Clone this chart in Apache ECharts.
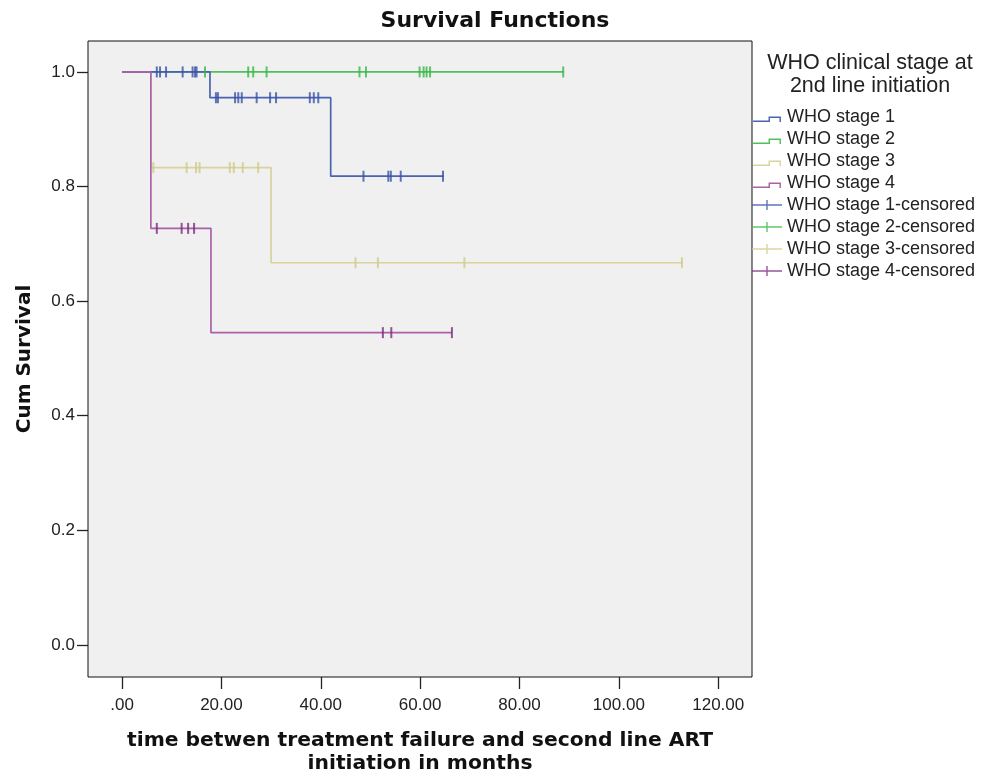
<!DOCTYPE html>
<html>

<head>
    <meta charset="utf-8">
    <title>Survival Functions</title>
    <script src="https://cdn.jsdelivr.net/npm/echarts@6/dist/echarts.min.js"></script>
</head>

<body style="margin:0;background:#fff;">
    <div id="main" style="width: 990px;height:776px;"></div>
    <script type="text/javascript">
    // step curves: time (months) and cumulative survival
    var s1Time = [0, 17.7, 42.0, 64.8];
    var s1Surv = [1, 0.955, 0.818, 0.818];
    var s2Time = [0, 88.9];
    var s2Surv = [1, 1];
    var s3Time = [0, 5.8, 30.0, 112.9];
    var s3Surv = [1, 0.833, 0.667, 0.667];
    var s4Time = [0, 5.8, 17.9, 66.4];
    var s4Surv = [1, 0.727, 0.545, 0.545];

    // censored observations
    var c1Time = [7.0, 7.65, 8.86, 12.2, 14.2, 14.7, 15.0, 18.9, 19.3, 22.75, 23.4, 24.1, 27.1, 29.8, 31.0, 37.8, 38.6, 39.5, 48.6, 53.6, 54.1, 56.1, 64.6];
    var c1Surv = [1, 1, 1, 1, 1, 1, 1, 0.955, 0.955, 0.955, 0.955, 0.955, 0.955, 0.955, 0.955, 0.955, 0.955, 0.955, 0.818, 0.818, 0.818, 0.818, 0.818];
    var c2Time = [16.7, 25.4, 26.4, 29.1, 47.8, 49.1, 59.9, 60.7, 61.3, 62.0, 88.8];
    var c2Surv = [1, 1, 1, 1, 1, 1, 1, 1, 1, 1, 1];
    var c3Time = [6.3, 13.0, 14.9, 15.6, 21.7, 22.5, 24.3, 27.4, 47.0, 51.5, 68.9, 112.7];
    var c3Surv = [0.833, 0.833, 0.833, 0.833, 0.833, 0.833, 0.833, 0.833, 0.667, 0.667, 0.667, 0.667];
    var c4Time = [7.0, 12.0, 13.3, 14.5, 52.5, 54.2, 66.4];
    var c4Surv = [0.727, 0.727, 0.727, 0.727, 0.545, 0.545, 0.545];

    var xTicks = [0, 20, 40, 60, 80, 100, 120];
    var yTicks = [0, 0.2, 0.4, 0.6, 0.8, 1.0];

    var stageNames = ['WHO stage 1', 'WHO stage 2', 'WHO stage 3', 'WHO stage 4'];
    var lineColors = ['#4a62b2', '#52c05a', '#d8d49c', '#a862a8'];
    var markColors = ['#3a52a8', '#3ab64a', '#cfca88', '#7e2a80'];

    function pairs(xs, ys) {
        return xs.map(function (x, i) { return [x, ys[i]]; });
    }

    var curves = [pairs(s1Time, s1Surv), pairs(s2Time, s2Surv), pairs(s3Time, s3Surv), pairs(s4Time, s4Surv)];
    var marks = [pairs(c1Time, c1Surv), pairs(c2Time, c2Surv), pairs(c3Time, c3Surv), pairs(c4Time, c4Surv)];

    // legend icons (30 x 10 box)
    var stepIcon = 'path://M0,0H0.01V0.01H0Z M0,8.3H15V4.3H27V9.7H25.6V5.7H16.4V9.7H0Z';
    var crossIcon = 'path://M0,4.3H14.3V0H15.7V4.3H30V5.7H15.7V10H14.3V5.7H0Z';

    var myChart = echarts.init(document.getElementById('main'));

    // draw order: green, yellow, blue, purple
    var order = [1, 2, 0, 3];
    var series = [];
    order.forEach(function (k) {
        series.push({
            name: stageNames[k],
            type: 'line',
            step: 'end',
            data: curves[k],
            color: lineColors[k],
            showSymbol: false,
            symbol: 'none',
            lineStyle: { width: 1.7, color: lineColors[k] },
            silent: true,
            z: 2
        });
    });
    order.forEach(function (k) {
        series.push({
            name: stageNames[k] + '-censored',
            type: 'scatter',
            data: marks[k],
            color: markColors[k],
            symbol: 'path://M0,0H1V10H0Z',
            symbolSize: [2, 11],
            itemStyle: { color: markColors[k] },
            silent: true,
            z: 3
        });
    });

    var legendData = [];
    stageNames.forEach(function (n) { legendData.push({ name: n, icon: stepIcon }); });
    stageNames.forEach(function (n) { legendData.push({ name: n + '-censored', icon: crossIcon }); });

    var option = {
        animation: false,
        backgroundColor: '#ffffff',
        title: [{
            text: 'Survival Functions',
            left: 'center',
            top: 5,
            textStyle: { fontFamily: 'DejaVu Sans', fontWeight: 'bold', fontSize: 22, color: '#111' }
        }, {
            text: 'WHO clinical stage at\n2nd line initiation',
            left: 865,
            top: 47,
            textAlign: 'center',
            textStyle: { fontFamily: 'Liberation Sans', fontWeight: 'normal', fontSize: 21.5, lineHeight: 23, color: '#222' }
        }],
        legend: {
            orient: 'vertical',
            left: 752,
            top: 108,
            padding: 0,
            itemWidth: 30,
            itemHeight: 10,
            itemGap: 4,
            selectedMode: false,
            itemStyle: { borderWidth: 0 },
            textStyle: { fontFamily: 'Liberation Sans', fontSize: 18, lineHeight: 18, color: '#222' },
            data: legendData
        },
        grid: {
            left: 88,
            right: 238,
            top: 41,
            bottom: 99,
            outerBoundsMode: 'none',
            show: true,
            backgroundColor: '#f0f0f0',
            borderColor: '#111',
            borderWidth: 1
        },
        xAxis: {
            type: 'value',
            min: -6.85,
            max: 126.8,
            name: 'time betwen treatment failure and second line ART\ninitiation in months',
            nameLocation: 'middle',
            nameGap: 52,
            nameTextStyle: { fontFamily: 'DejaVu Sans', fontWeight: 'bold', fontSize: 20.3, lineHeight: 23, color: '#111' },
            axisLine: { show: false, onZero: false },
            axisTick: { show: true, length: 12, customValues: xTicks, lineStyle: { color: '#222', width: 1.3 } },
            axisLabel: {
                customValues: xTicks,
                margin: 20,
                fontFamily: 'Liberation Sans',
                fontSize: 17,
                color: '#222',
                formatter: function (v) { return v === 0 ? '.00' : v.toFixed(2); }
            },
            splitLine: { show: false }
        },
        yAxis: {
            type: 'value',
            min: -0.056,
            max: 1.054,
            name: 'Cum Survival',
            nameLocation: 'middle',
            nameGap: 53,
            nameTextStyle: { fontFamily: 'DejaVu Sans', fontWeight: 'bold', fontSize: 20, color: '#111' },
            axisLine: { show: false, onZero: false },
            axisTick: { show: true, length: 11, customValues: yTicks, lineStyle: { color: '#222', width: 1.3 } },
            axisLabel: {
                customValues: yTicks,
                margin: 13,
                fontFamily: 'Liberation Sans',
                fontSize: 17,
                color: '#222',
                formatter: function (v) { return v.toFixed(1); }
            },
            splitLine: { show: false }
        },
        series: series
    };

    myChart.setOption(option);
    </script>
</body>

</html>
